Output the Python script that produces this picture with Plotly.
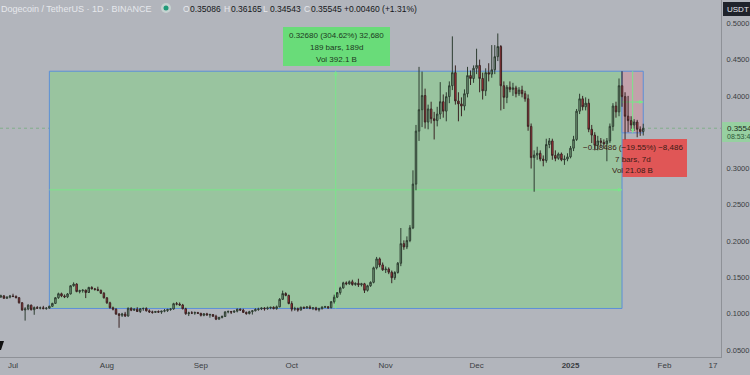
import pandas as pd
import plotly.graph_objects as go

# ---------------- data (DOGE/USDT daily) ----------------
START_DATE = "2024-06-27"

opens = [
    0.1230, 0.1245, 0.1212, 0.1228,
    # Jul
    0.1242, 0.1238, 0.1220, 0.1150, 0.1052, 0.1065, 0.1118, 0.1055, 0.1085, 0.1075,
    0.1082, 0.1070, 0.1076, 0.1102, 0.1142, 0.1220, 0.1275, 0.1245, 0.1232, 0.1272,
    0.1385, 0.1408, 0.1305, 0.1318, 0.1325, 0.1292, 0.1362, 0.1342, 0.1335, 0.1322, 0.1282,
    # Aug
    0.1218, 0.1150, 0.1082, 0.1062, 0.0995, 0.0978, 0.0995, 0.0968, 0.1075, 0.1048,
    0.1062, 0.1030, 0.1068, 0.1072, 0.1040, 0.1025, 0.1018, 0.1030, 0.1022, 0.1035,
    0.1042, 0.1058, 0.1065, 0.1138, 0.1132, 0.1120, 0.1068, 0.1000, 0.1012, 0.1008, 0.1015,
    # Sep
    0.1005, 0.0978, 0.0998, 0.0982, 0.0988, 0.0965, 0.0925, 0.0948, 0.0962, 0.1025,
    0.1030, 0.1022, 0.1035, 0.1062, 0.1050, 0.1018, 0.1002, 0.1028, 0.1040, 0.1058,
    0.1065, 0.1078, 0.1068, 0.1080, 0.1088, 0.1070, 0.1095, 0.1198, 0.1278, 0.1252,
    # Oct
    0.1140, 0.1062, 0.1070, 0.1050, 0.1088, 0.1078, 0.1092, 0.1075, 0.1080, 0.1055,
    0.1068, 0.1092, 0.1095, 0.1082, 0.1165, 0.1228, 0.1290, 0.1355, 0.1425, 0.1412,
    0.1440, 0.1402, 0.1418, 0.1398, 0.1412, 0.1322, 0.1385, 0.1432, 0.1632, 0.1755, 0.1672,
    # Nov
    0.1605, 0.1615, 0.1572, 0.1495, 0.1568, 0.1695, 0.1965, 0.1920, 0.2008, 0.2182,
    0.2785, 0.3515, 0.3810, 0.4005, 0.3640, 0.3820, 0.3685, 0.3660, 0.3750, 0.3920,
    0.3790, 0.3990, 0.4140, 0.4320, 0.3930, 0.3890, 0.3860, 0.4030, 0.4280, 0.4240,
    # Dec
    0.4380, 0.4420, 0.4240, 0.4070, 0.4320, 0.4300, 0.4360, 0.4540, 0.4680, 0.4140,
    0.3980, 0.4120, 0.4090, 0.4110, 0.4030, 0.4080, 0.4030, 0.3960, 0.3580, 0.3150,
    0.3185, 0.3210, 0.3130, 0.3110, 0.3330, 0.3380, 0.3180, 0.3140, 0.3200, 0.3120, 0.3130,
    # Jan
    0.3160, 0.3280, 0.3400, 0.3790, 0.3960, 0.3850, 0.3900, 0.3540, 0.3460, 0.3320,
    0.3380, 0.3360, 0.3340, 0.3380, 0.3580, 0.3860, 0.3780, 0.4140, 0.3990, 0.3720,
    0.3660, 0.3600, 0.3640, 0.3540, 0.35086,
]

highs = [
    0.1262, 0.1258, 0.1238, 0.1258,
    # Jul
    0.1275, 0.1252, 0.1228, 0.1160, 0.1090, 0.1130, 0.1125, 0.1100, 0.1105, 0.1098,
    0.1108, 0.1092, 0.1110, 0.1150, 0.1228, 0.1290, 0.1290, 0.1265, 0.1285, 0.1392,
    0.1432, 0.1420, 0.1330, 0.1335, 0.1332, 0.1370, 0.1378, 0.1355, 0.1372, 0.1332, 0.1298,
    # Aug
    0.1230, 0.1165, 0.1098, 0.1075, 0.1010, 0.1012, 0.1025, 0.1085, 0.1088, 0.1072,
    0.1090, 0.1078, 0.1085, 0.1088, 0.1060, 0.1042, 0.1038, 0.1045, 0.1040, 0.1065,
    0.1068, 0.1075, 0.1150, 0.1162, 0.1155, 0.1135, 0.1082, 0.1028, 0.1035, 0.1030, 0.1025,
    # Sep
    0.1012, 0.1008, 0.1012, 0.1000, 0.0995, 0.0985, 0.0958, 0.0975, 0.1032, 0.1045,
    0.1038, 0.1045, 0.1070, 0.1072, 0.1068, 0.1030, 0.1040, 0.1048, 0.1075, 0.1082,
    0.1085, 0.1090, 0.1098, 0.1095, 0.1102, 0.1112, 0.1215, 0.1318, 0.1295, 0.1262,
    # Oct
    0.1172, 0.1095, 0.1085, 0.1098, 0.1098, 0.1105, 0.1115, 0.1090, 0.1095, 0.1082,
    0.1100, 0.1108, 0.1105, 0.1175, 0.1262, 0.1298, 0.1372, 0.1440, 0.1445, 0.1458,
    0.1468, 0.1432, 0.1482, 0.1425, 0.1425, 0.1398, 0.1445, 0.1648, 0.1782, 0.1775, 0.1705,
    # Nov
    0.1650, 0.1638, 0.1595, 0.1585, 0.1712, 0.2180, 0.2010, 0.2065, 0.2220, 0.2975,
    0.3600, 0.4400, 0.4335, 0.4100, 0.3880, 0.3920, 0.3780, 0.3850, 0.4190, 0.4020,
    0.4050, 0.4200, 0.4820, 0.4420, 0.4050, 0.3980, 0.4090, 0.4400, 0.4350, 0.4420,
    # Dec
    0.4650, 0.4500, 0.4320, 0.4380, 0.4450, 0.4700, 0.4700, 0.4860, 0.4700, 0.4200,
    0.4150, 0.4200, 0.4180, 0.4140, 0.4120, 0.4140, 0.4070, 0.4020, 0.3620, 0.3250,
    0.3300, 0.3250, 0.3180, 0.3410, 0.3420, 0.3410, 0.3250, 0.3220, 0.3220, 0.3180, 0.3210,
    # Jan
    0.3310, 0.3450, 0.3820, 0.4030, 0.4000, 0.3980, 0.3960, 0.3600, 0.3500, 0.3450,
    0.3420, 0.3400, 0.3420, 0.3620, 0.3900, 0.3920, 0.4240, 0.4340, 0.4050, 0.4000,
    0.3720, 0.3680, 0.3670, 0.3580, 0.36165,
]

lows = [
    0.1218, 0.1205, 0.1205, 0.1212,
    # Jul
    0.1228, 0.1212, 0.1140, 0.1040, 0.0905, 0.1048, 0.1045, 0.0985, 0.1065, 0.1060,
    0.1062, 0.1055, 0.1070, 0.1095, 0.1135, 0.1205, 0.1228, 0.1215, 0.1215, 0.1265,
    0.1372, 0.1295, 0.1280, 0.1290, 0.1215, 0.1285, 0.1335, 0.1318, 0.1310, 0.1272, 0.1210,
    # Aug
    0.1135, 0.1070, 0.1045, 0.0985, 0.0806, 0.0955, 0.0955, 0.0960, 0.1035, 0.1040,
    0.1025, 0.1010, 0.1040, 0.1030, 0.1010, 0.1000, 0.1010, 0.1012, 0.0998, 0.1020,
    0.1025, 0.1040, 0.1055, 0.1115, 0.1110, 0.1060, 0.0985, 0.0968, 0.0995, 0.0985, 0.0998,
    # Sep
    0.0962, 0.0965, 0.0975, 0.0945, 0.0955, 0.0912, 0.0918, 0.0935, 0.0958, 0.1005,
    0.0995, 0.1010, 0.1018, 0.1040, 0.1010, 0.0985, 0.0990, 0.0988, 0.1032, 0.1040,
    0.1050, 0.1042, 0.1055, 0.1062, 0.1060, 0.1055, 0.1088, 0.1190, 0.1240, 0.1130,
    # Oct
    0.1032, 0.1040, 0.1028, 0.1045, 0.1065, 0.1070, 0.1062, 0.1050, 0.1045, 0.1030,
    0.1060, 0.1078, 0.1068, 0.1075, 0.1140, 0.1215, 0.1262, 0.1345, 0.1392, 0.1398,
    0.1385, 0.1385, 0.1368, 0.1375, 0.1285, 0.1305, 0.1370, 0.1418, 0.1610, 0.1640, 0.1590,
    # Nov
    0.1560, 0.1545, 0.1420, 0.1465, 0.1552, 0.1655, 0.1880, 0.1890, 0.1985, 0.2165,
    0.2700, 0.3380, 0.3570, 0.3550, 0.3540, 0.3620, 0.3400, 0.3580, 0.3680, 0.3700,
    0.3650, 0.3900, 0.4080, 0.3880, 0.3650, 0.3720, 0.3800, 0.3980, 0.4150, 0.4180,
    # Dec
    0.4300, 0.4050, 0.3950, 0.4000, 0.4200, 0.4250, 0.4300, 0.4480, 0.3800, 0.3820,
    0.3900, 0.4050, 0.4000, 0.3980, 0.4000, 0.3980, 0.3920, 0.3520, 0.3000, 0.2680,
    0.3120, 0.3100, 0.3030, 0.3080, 0.3280, 0.3120, 0.3100, 0.3120, 0.3100, 0.3050, 0.3100,
    # Jan
    0.3140, 0.3240, 0.3380, 0.3750, 0.3800, 0.3800, 0.3500, 0.3350, 0.3250, 0.3250,
    0.3300, 0.3280, 0.3100, 0.3350, 0.3520, 0.3700, 0.3720, 0.3850, 0.3400, 0.3500,
    0.3520, 0.3520, 0.3430, 0.3450, 0.34543,
]

closes = [
    0.1245, 0.1212, 0.1228, 0.1242,
    # Jul
    0.1238, 0.1220, 0.1150, 0.1052, 0.1065, 0.1118, 0.1055, 0.1085, 0.1075, 0.1082,
    0.1070, 0.1076, 0.1102, 0.1142, 0.1220, 0.1275, 0.1245, 0.1232, 0.1272, 0.1385,
    0.1408, 0.1305, 0.1318, 0.1325, 0.1292, 0.1362, 0.1342, 0.1335, 0.1322, 0.1282, 0.1218,
    # Aug
    0.1150, 0.1082, 0.1062, 0.0995, 0.0978, 0.0995, 0.0968, 0.1075, 0.1048, 0.1062,
    0.1030, 0.1068, 0.1072, 0.1040, 0.1025, 0.1018, 0.1030, 0.1022, 0.1035, 0.1042,
    0.1058, 0.1065, 0.1138, 0.1132, 0.1120, 0.1068, 0.1000, 0.1012, 0.1008, 0.1015, 0.1005,
    # Sep
    0.0978, 0.0998, 0.0982, 0.0988, 0.0965, 0.0925, 0.0948, 0.0962, 0.1025, 0.1030,
    0.1022, 0.1035, 0.1062, 0.1050, 0.1018, 0.1002, 0.1028, 0.1040, 0.1058, 0.1065,
    0.1078, 0.1068, 0.1080, 0.1088, 0.1070, 0.1095, 0.1198, 0.1278, 0.1252, 0.1140,
    # Oct
    0.1062, 0.1070, 0.1050, 0.1088, 0.1078, 0.1092, 0.1075, 0.1080, 0.1055, 0.1068,
    0.1092, 0.1095, 0.1082, 0.1165, 0.1228, 0.1290, 0.1355, 0.1425, 0.1412, 0.1440,
    0.1402, 0.1418, 0.1398, 0.1412, 0.1322, 0.1385, 0.1432, 0.1632, 0.1755, 0.1672, 0.1605,
    # Nov
    0.1615, 0.1572, 0.1495, 0.1568, 0.1695, 0.1965, 0.1920, 0.2008, 0.2182, 0.2785,
    0.3515, 0.3810, 0.4005, 0.3640, 0.3820, 0.3685, 0.3660, 0.3750, 0.3920, 0.3790,
    0.3990, 0.4140, 0.4320, 0.3930, 0.3890, 0.3860, 0.4030, 0.4280, 0.4240, 0.4380,
    # Dec
    0.4420, 0.4240, 0.4070, 0.4320, 0.4300, 0.4360, 0.4540, 0.4680, 0.4140, 0.3980,
    0.4120, 0.4090, 0.4110, 0.4030, 0.4080, 0.4030, 0.3960, 0.3580, 0.3150, 0.3185,
    0.3210, 0.3130, 0.3110, 0.3330, 0.3380, 0.3180, 0.3140, 0.3200, 0.3120, 0.3130, 0.3160,
    # Jan
    0.3280, 0.3400, 0.3790, 0.3960, 0.3850, 0.3900, 0.3540, 0.3460, 0.3320, 0.3380,
    0.3360, 0.3340, 0.3380, 0.3580, 0.3860, 0.3780, 0.4140, 0.3990, 0.3720, 0.3660,
    0.3600, 0.3640, 0.3540, 0.3509, 0.35545,
]

assert len(opens) == len(highs) == len(lows) == len(closes)
dates = pd.date_range(START_DATE, periods=len(closes), freq="D")

SYMBOL = "Dogecoin / TetherUS \u00b7 1D \u00b7 BINANCE"
ohlc_letters = ["O", "H", "L", "C"]
ohlc_values = ["0.35086", "0.36165", "0.34543", "0.35545"]
change_text = "+0.00460 (+1.31%)"

range_start = "2024-07-13"
range_split = "2025-01-18"
range_end = "2025-01-25"
range_low = 0.1072
range_high = 0.4340
range2_low = 0.3491

label1_lines = ["0.32680 (304.62%) 32,680", "189 bars, 189d", "Vol 392.1 B"]
label2_lines = ["\u22120.08486 (\u221219.55%) \u22128,486", "7 bars, 7d", "Vol 21.08 B"]

y_ticks = [0.05, 0.10, 0.15, 0.20, 0.25, 0.30, 0.40, 0.45, 0.50]
y_ticktext = ["0.0500", "0.1000", "0.1500", "0.2000", "0.2500", "0.3000",
              "0.4000", "0.4500", "0.5000"]
x_ticks = ["2024-07-01", "2024-08-01", "2024-09-01", "2024-10-01", "2024-11-01",
           "2024-12-01", "2025-01-01", "2025-02-01", "2025-02-17"]
x_ticktext = ["Jul", "Aug", "Sep", "Oct", "Nov", "Dec", "<b>2025</b>", "Feb", "17"]

last_price_text = "0.3554"
countdown_text = "08:53:4"
axis_unit = "USDT"

# ---------------- layout geometry ----------------
W, H = 750, 375
PLOT_W, PLOT_H = 721, 357
PX_PER_DAY = 3.03
PX_PER_UNIT = 726.0

x_left = pd.Timestamp("2024-07-01") - pd.Timedelta(days=13 / PX_PER_DAY)
x_right = x_left + pd.Timedelta(days=PLOT_W / PX_PER_DAY)
y_bottom = 0.05 - (PLOT_H - 350) / PX_PER_UNIT
y_top = 0.05 + 350 / PX_PER_UNIT


def px(x):
    return x / PLOT_W


def py(y):
    return 1 - y / PLOT_H


BG = "#b2b5bc"
GREEN_BOX = "#99c49f"
PINK_BOX = "#c2a2ab"
BLUE = "#5c8fd8"
MID_GREEN = "#7be58a"

fig = go.Figure()
fig.add_trace(go.Candlestick(
    x=dates, open=opens, high=highs, low=lows, close=closes,
    increasing=dict(line=dict(color="#2e3d31", width=1), fillcolor="rgba(80,135,90,0.35)"),
    decreasing=dict(line=dict(color="#3a2424", width=1), fillcolor="#c9333b"),
    whiskerwidth=0, hoverinfo="skip", showlegend=False,
))

mid1_date = pd.Timestamp(range_start) + (pd.Timestamp(range_split) - pd.Timestamp(range_start)) / 2
mid2_date = pd.Timestamp(range_split) + (pd.Timestamp(range_end) - pd.Timestamp(range_split)) / 2
mid1_price = (range_low + range_high) / 2
mid2_price = (range2_low + range_high) / 2

shapes = [
    dict(type="rect", xref="x", yref="y", x0=range_start, x1=range_split,
         y0=range_low, y1=range_high, fillcolor=GREEN_BOX,
         line=dict(color=BLUE, width=1), layer="below"),
    dict(type="rect", xref="x", yref="y", x0=range_split, x1=range_end,
         y0=range2_low, y1=range_high, fillcolor=PINK_BOX,
         line=dict(color=BLUE, width=1), layer="below"),
    # midlines of range tools
    dict(type="line", xref="x", yref="y", x0=mid1_date, x1=mid1_date,
         y0=range_low, y1=range_high, line=dict(color=MID_GREEN, width=1), layer="below"),
    dict(type="line", xref="x", yref="y", x0=range_start, x1=range_split,
         y0=mid1_price, y1=mid1_price, line=dict(color=MID_GREEN, width=1), layer="below"),
    dict(type="line", xref="x", yref="y", x0=mid2_date, x1=mid2_date,
         y0=range2_low, y1=range_high, line=dict(color=MID_GREEN, width=1), layer="below"),
    dict(type="line", xref="x", yref="y", x0=range_split, x1=range_end,
         y0=mid2_price, y1=mid2_price, line=dict(color=MID_GREEN, width=1), layer="below"),
    # red info label (left part over green box, right part over gray)
    dict(type="rect", xref="paper", yref="paper", x0=px(578), x1=px(622),
         y0=py(177), y1=py(139), fillcolor="#c67a50", line=dict(width=0), layer="below"),
    dict(type="rect", xref="paper", yref="paper", x0=px(622), x1=px(687),
         y0=py(177), y1=py(139), fillcolor="#e05656", line=dict(width=0), layer="below"),
    # green info label
    dict(type="rect", xref="paper", yref="paper", x0=px(283), x1=px(390),
         y0=py(66), y1=py(27), fillcolor="#69dc79", line=dict(width=0), layer="above"),
    # last price dotted line
    dict(type="line", xref="paper", yref="y", x0=0, x1=1, y0=closes[-1], y1=closes[-1],
         line=dict(color="rgba(90,170,100,0.55)", width=1, dash="dot"), layer="below"),
    # price label on the axis
    dict(type="rect", xref="paper", yref="paper", x0=px(722), x1=px(752),
         y0=py(142), y1=py(122), fillcolor="#97d0a1", line=dict(width=0)),
    # unit badge
    dict(type="rect", xref="paper", yref="paper", x0=px(723), x1=px(752),
         y0=py(16), y1=py(2), fillcolor="#1f232b", line=dict(width=0)),
    # status dot
    dict(type="circle", xref="paper", yref="paper", x0=px(161), x1=px(171),
         y0=py(13), y1=py(3), fillcolor="rgba(215,235,225,0.55)", line=dict(width=0)),
    dict(type="circle", xref="paper", yref="paper", x0=px(163.5), x1=px(168.5),
         y0=py(10.5), y1=py(5.5), fillcolor="#1f9a78", line=dict(width=0)),
    # partial logo bottom-left
    dict(type="path", xref="paper", yref="paper",
         path=f"M {px(-1)},{py(341)} L {px(4)},{py(341)} L {px(1)},{py(350)} L {px(-1)},{py(350)} Z",
         fillcolor="#111111", line=dict(width=0)),
]

annotations = []
# arrowheads on midlines
for (xh, yh, axp, ayp) in [(mid1_date, range_high, 0, 10), (range_split, mid1_price, -10, 0),
                           (range_end, mid2_price, -8, 0), (mid2_date, range2_low, 0, -8)]:
    annotations.append(dict(x=xh, y=yh, xref="x", yref="y", ax=axp, ay=ayp,
                            axref="pixel", ayref="pixel", text="", showarrow=True,
                            arrowhead=2, arrowsize=0.8, arrowwidth=1, arrowcolor=MID_GREEN))

FONT = "Liberation Sans, Arial, sans-serif"
# header
annotations.append(dict(x=px(0), y=py(8.5), xref="paper", yref="paper", text=SYMBOL,
                        showarrow=False, xanchor="left", yanchor="middle", borderpad=0,
                        font=dict(family=FONT, size=9, color="#e6e8ec")))
letter_x = [182, 223, 262, 303]
for lx, letter, val in zip(letter_x, ohlc_letters, ohlc_values):
    annotations.append(dict(x=px(lx), y=py(8.5), xref="paper", yref="paper", text=letter,
                            showarrow=False, xanchor="left", yanchor="middle", borderpad=0,
                            font=dict(family=FONT, size=8.5, color="#e6e8ec")))
    annotations.append(dict(x=px(lx + 6.5), y=py(8.5), xref="paper", yref="paper", text=val,
                            showarrow=False, xanchor="left", yanchor="middle", borderpad=0,
                            font=dict(family=FONT, size=8.5, color="#15171a")))
annotations.append(dict(x=px(343), y=py(8.5), xref="paper", yref="paper", text=change_text,
                        showarrow=False, xanchor="left", yanchor="middle", borderpad=0,
                        font=dict(family=FONT, size=8.5, color="#15171a")))

# range labels
for i, line in enumerate(label1_lines):
    annotations.append(dict(x=px(336.5), y=py(35.5 + 11.8 * i), xref="paper", yref="paper",
                            text=line, showarrow=False, xanchor="center", yanchor="middle",
                            font=dict(family=FONT, size=8, color="#1d3a22")))
for i, line in enumerate(label2_lines):
    annotations.append(dict(x=px(632.5), y=py(147.5 + 11.5 * i), xref="paper", yref="paper",
                            text=line, showarrow=False, xanchor="center", yanchor="middle",
                            font=dict(family=FONT, size=8, color="#3a1a14")))

# axis badges
annotations.append(dict(x=px(725.5), y=py(9), xref="paper", yref="paper", text=axis_unit,
                        showarrow=False, xanchor="left", yanchor="middle", borderpad=0,
                        font=dict(family=FONT, size=8, color="#e8eaee")))
annotations.append(dict(x=px(725.5), y=py(128), xref="paper", yref="paper", text=last_price_text,
                        showarrow=False, xanchor="left", yanchor="middle", borderpad=0,
                        font=dict(family=FONT, size=8, color="#1b2a1e")))
annotations.append(dict(x=px(725.5), y=py(136.5), xref="paper", yref="paper", text=countdown_text,
                        showarrow=False, xanchor="left", yanchor="middle", borderpad=0,
                        font=dict(family=FONT, size=7, color="#2f5a38")))

fig.update_layout(
    width=W, height=H,
    margin=dict(l=0, r=W - PLOT_W, t=0, b=H - PLOT_H, pad=0, autoexpand=False),
    paper_bgcolor=BG, plot_bgcolor=BG,
    showlegend=False,
    shapes=shapes, annotations=annotations,
    xaxis=dict(type="date", range=[x_left, x_right], rangeslider=dict(visible=False),
               automargin=False,
               showgrid=False, zeroline=False, showline=True, linecolor="#8e9197", linewidth=1,
               tickvals=x_ticks, ticktext=x_ticktext, ticks="",
               tickfont=dict(family=FONT, size=8, color="#3a3d42")),
    yaxis=dict(range=[y_bottom, y_top], side="right", showgrid=False, zeroline=False,
               automargin=False,
               showline=True, linecolor="#8e9197", linewidth=1,
               tickvals=y_ticks, ticktext=y_ticktext, ticks="outside", ticklen=3,
               tickcolor=BG, tickfont=dict(family=FONT, size=7.5, color="#3a3d42")),
)

fig.write_html(
    "out.html",
    config={"displayModeBar": False},
    post_script="document.body.style.margin='0';document.body.style.padding='0';"
                "document.body.style.overflow='hidden';document.body.style.background='" + BG + "';",
)
